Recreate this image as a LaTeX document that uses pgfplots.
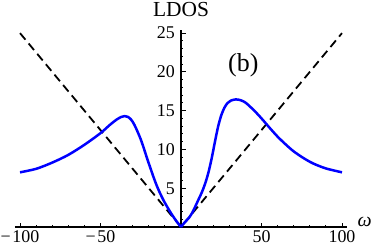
\documentclass[border=0pt]{standalone}
\usepackage{fontspec}
\setmainfont{Liberation Serif}
\usepackage{pgfplots}
\pgfplotsset{compat=1.18}
\begin{document}
\begin{tikzpicture}
\useasboundingbox (-15bp,-23bp) rectangle (359bp,227bp);
\begin{axis}[
  at={(0,0)}, anchor=south west,
  scale only axis, width=332bp, height=197bp,
  axis lines=middle,
  axis line style={-, line width=1.2bp},
  xmin=-103.1, xmax=103.1, ymin=0, ymax=25.4,
  xtick={-100,-50,0,50,100},
  xticklabels={−\kern1.5bp100,−\kern1.5bp50,,50,100},
  ytick={0,5,10,15,20,25},
  yticklabels={,5,10,15,20,25},
  minor x tick num=4, minor y tick num=4,
  tick align=inside,
  major tick length=4.5bp, minor tick length=2.2bp,
  tick style={black, line width=0.9bp},
  ticklabel style={font=\fontsize{18}{20}\selectfont},
  xticklabel style={anchor=north, inner sep=0pt, yshift=-3.5bp},
  yticklabel style={anchor=east, inner sep=0pt, xshift=-6bp},
  every axis x label/.style={at={(axis description cs:1,0)}, anchor=base west, xshift=7bp, yshift=1bp, font=\fontsize{20}{22}\selectfont},
  every axis y label/.style={at={(axis description cs:0.5,1)}, anchor=base, yshift=13bp, font=\fontsize{21.5}{23}\selectfont},
  xlabel={\itshape ω},
  ylabel={LDOS},
  clip=false,
]
\addplot[black, line width=1.8bp, dash pattern=on 8.5bp off 5bp] coordinates {(-100,25) (0,0) (100,25)};
\addplot[blue, line width=2.5bp, smooth] coordinates {
(-100,7.05) (-90,7.5) (-80,8.3) (-70,9.3) (-60,10.6) (-50,12.1) (-44,13.2) (-40,13.85) (-37,14.2) (-35,14.3) (-33,14.2) (-31,13.85) (-29,13.2) (-27,12.3) (-25,11.3) (-23,10.1) (-21,8.8) (-19,7.6) (-17,6.4) (-15,5.3) (-13,4.35) (-11,3.5) (-9,2.75) (-7,2.05) (-5,1.4) (-3,0.8) (-1.5,0.4) (0,0)
};
\addplot[blue, line width=2.5bp, smooth] coordinates {
(0,0) (1.5,0.4) (3,0.75) (5,1.2) (7,1.85) (9,2.7) (11,3.6) (13,4.5) (15,5.6) (17,7.0) (19,8.8) (21,10.9) (23,12.9) (25,14.4) (27,15.4) (29,16.0) (31,16.3) (34,16.45) (37,16.35) (40,16.05) (43,15.5) (46,14.9) (50,14.0) (55,12.8) (60,11.65) (65,10.65) (70,9.75) (76,8.9) (82,8.2) (90,7.55) (100,7.05)
};
\node[font=\fontsize{26}{28}\selectfont] at (axis cs:38.7,20.9) {(b)};
\end{axis}
\end{tikzpicture}
\end{document}
